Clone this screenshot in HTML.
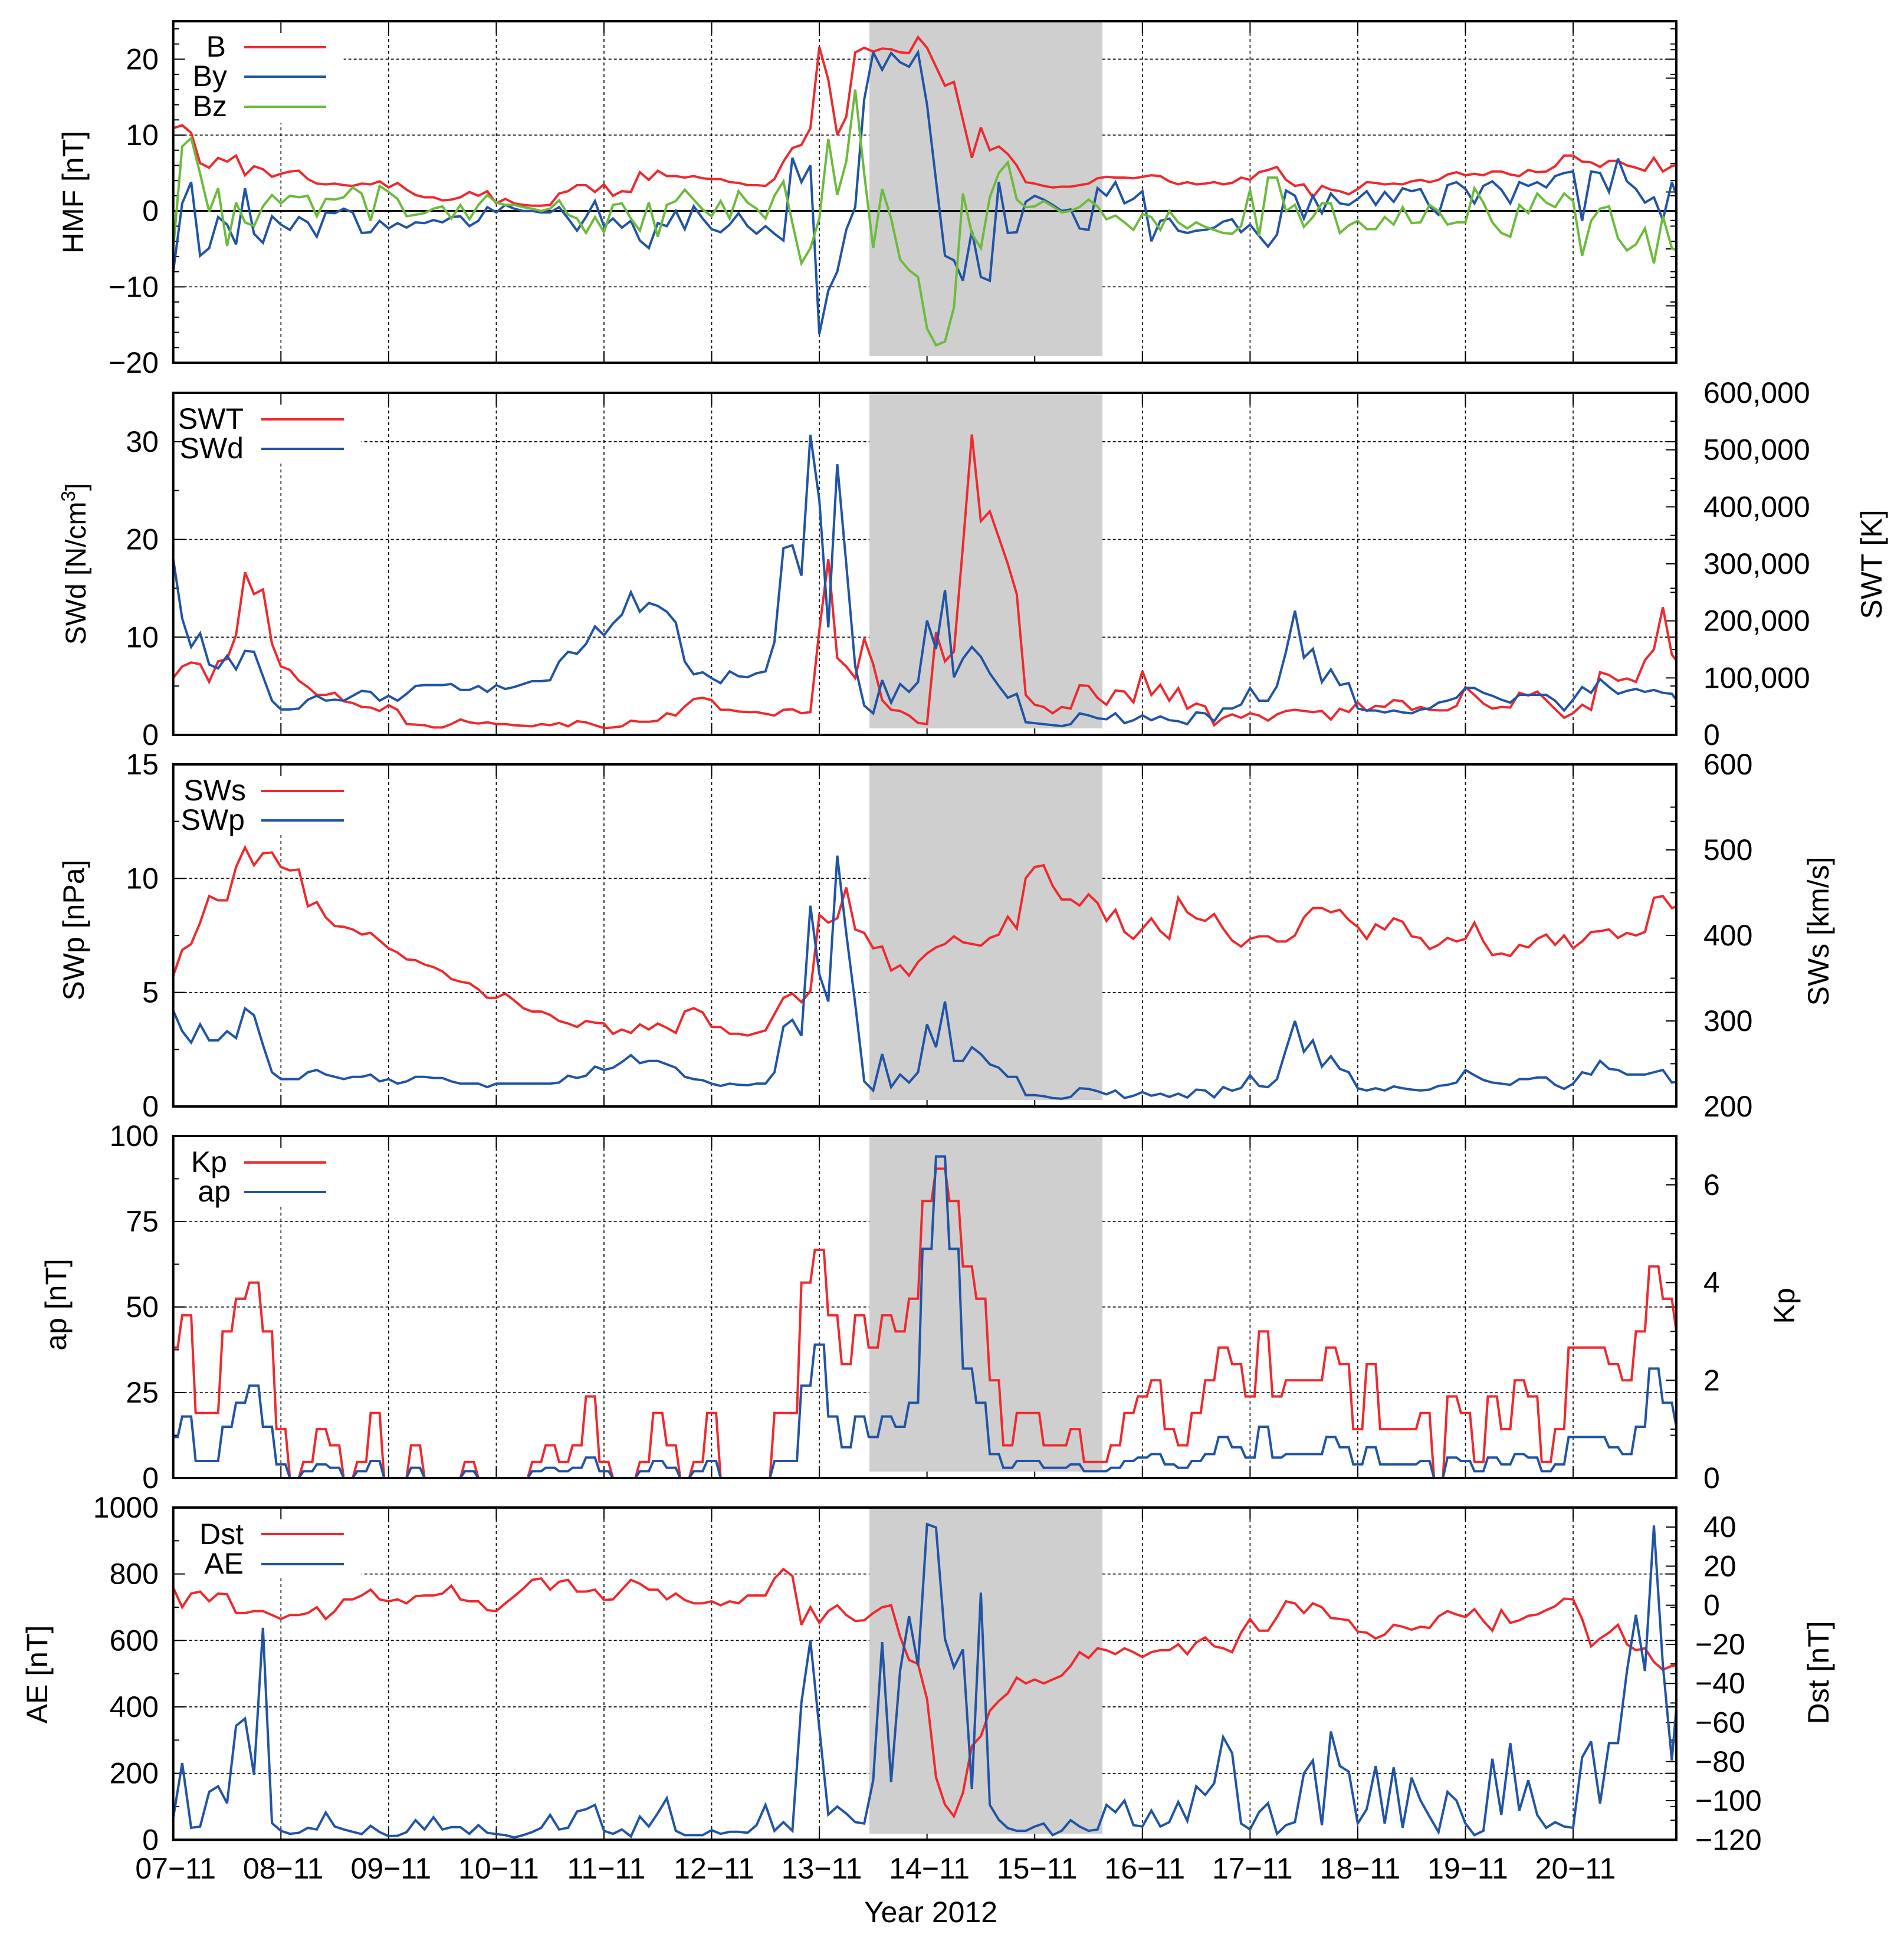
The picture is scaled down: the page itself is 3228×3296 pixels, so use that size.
<!DOCTYPE html>
<html lang="en">
<head>
<meta charset="utf-8">
<title>Solar wind and geomagnetic indices, November 2012</title>
<style>
html,body{margin:0;padding:0;background:#fff;}
svg{display:block;}
text{font-family:"Liberation Sans",Arial,sans-serif;font-size:50px;fill:#000;}
</style>
</head>
<body>
<svg id="chart" xmlns="http://www.w3.org/2000/svg" width="3228" height="3296" viewBox="0 0 3228 3296">
<rect x="0" y="0" width="3228" height="3296" fill="#ffffff"/>
<g id="layers"></g>
<g id="labels">
<text transform="translate(141 326) rotate(-90)" text-anchor="middle">HMF [nT]</text>
<text transform="translate(145 956) rotate(-90)" text-anchor="middle" font-size="48" style="font-size:48px">SWd [N/cm<tspan style="font-size:33px" dy="-18">3</tspan><tspan dy="18">]</tspan></text>
<text transform="translate(3190 957) rotate(-90)" text-anchor="middle">SWT [K]</text>
<text transform="translate(142 1577) rotate(-90)" text-anchor="middle">SWp [nPa]</text>
<text transform="translate(3100 1579) rotate(-90)" text-anchor="middle">SWs [km/s]</text>
<text transform="translate(112 2212) rotate(-90)" text-anchor="middle">ap [nT]</text>
<text transform="translate(3042 2214) rotate(-90)" text-anchor="middle">Kp</text>
<text transform="translate(80 2839) rotate(-90)" text-anchor="middle">AE [nT]</text>
<text transform="translate(3100 2836) rotate(-90)" text-anchor="middle">Dst [nT]</text>
<text x="1578" y="3259" text-anchor="middle">Year 2012</text>
<text x="383" y="96" text-anchor="end">B</text>
<text x="385" y="146" text-anchor="end">By</text>
<text x="385" y="197" text-anchor="end">Bz</text>
<text x="413" y="727" text-anchor="end">SWT</text>
<text x="413" y="777" text-anchor="end">SWd</text>
<text x="417" y="1357" text-anchor="end">SWs</text>
<text x="415" y="1407" text-anchor="end">SWp</text>
<text x="385" y="1987" text-anchor="end">Kp</text>
<text x="391" y="2037" text-anchor="end">ap</text>
<text x="413" y="2618" text-anchor="end">Dst</text>
<text x="413" y="2668" text-anchor="end">AE</text>
</g>
</svg>
<script>
// ---- Chart data: one reading every 2 hours from 07-11 00:00 unless stated ----
const dayLabels = ['07\u221211','08\u221211','09\u221211','10\u221211','11\u221211','12\u221211','13\u221211','14\u221211','15\u221211','16\u221211','17\u221211','18\u221211','19\u221211','20\u221211'];

const bValues = [
10.9,11.3,10.3,6.3,5.7,7,6.5,7.3,4.7,5.9,5.5,4.5,
4.9,5.2,5.3,4.2,3.6,3.5,3.6,3.4,3.3,3.6,3.5,3.9,
3.1,3.7,2.8,2.1,1.8,1.8,1.4,1.5,1.8,2.5,2,2.6,
1,1.6,1,.8,.7,.7,.8,2.3,2.6,3.4,3.4,2.5,
3.5,2,2.6,2.5,5.1,4.1,5.3,4.6,4.6,4.4,4.6,4.3,
4.2,4.2,3.8,3.7,3.4,3.4,3.3,4.2,6.5,8.3,8.7,10.9,
21.6,17.3,10,12.4,20.9,21.5,21,21.4,21.3,20.9,20.8,22.9,
21.5,19,16.5,17,12,7,11,8,8.5,7.5,6,3.8,
3.6,3.3,3.1,3.2,3.2,3.4,3.6,4.3,4.5,4.4,4.4,4.3,
4.5,4.7,4.6,3.9,3.5,3.8,3.5,3.6,3.8,3.5,3.7,4.4,
4.1,5.1,5.4,5.8,4.1,3.3,3.5,1.8,3.3,2.8,2.6,2.2,
2.9,3.8,3.7,3.5,3.6,3.5,3.9,4.1,3.8,4.1,4.8,5.1,
4.7,4.9,4.7,5.2,5.2,4.8,4.6,5.4,5.1,5.2,5.9,7.3,
7.3,6.5,6.4,5.8,6.6,6.6,6,5.7,5.3,7,5.2,5.9,6.2];

const byValues = [
-8,1,3.8,-5.9,-4.9,-.8,-1.8,-4.4,3,-3,-4.2,-.7,
-1.8,-2.5,-.8,-1.5,-3.4,-.2,-.3,.3,-.2,-2.9,-2.8,-1.3,
-2.3,-1.6,-2.2,-1.5,-1.6,-1.2,-1.5,-.8,-.7,-2,-1.3,.5,
-.2,.8,.3,0,0,-.2,-.2,.5,-1,-2.6,-.8,1.3,
-2,-1,-2.2,-1.3,-3.9,-4.9,-1.6,-2,0,-2.4,.6,-1,
-2.4,-2.8,-1.8,-.3,-2,-3,-2,-3,-3.9,7,3.8,6,
-16.2,-10.5,-8,-2.5,.5,14.7,20.9,18.6,20.8,19.6,19,20.9,
14,4,-5.9,-6.5,-9.2,-2.6,-8.7,-9.2,3.8,-2.9,-2.8,1.2,
2,1.5,.8,0,.2,-2.3,-2.5,3,2,3.8,1,1.6,
2.6,-4,-1.3,-1,-2.6,-2.9,-2.6,-2.5,-2.2,-1.4,-1.1,-2.8,
-1.8,-3.3,-4.7,-3.1,2.7,2,-1,2,-.3,2.3,1,.8,
1.6,2.6,.8,2.5,1.2,3,2.6,2.9,.6,-.5,3.4,3.8,
2.9,1,3.3,3.9,2.8,1,3.8,3.3,3.8,3.1,4.6,5,
5.2,-1.3,5.2,5,2.5,6.9,3.9,2.9,1.1,1.8,-1.2,3.8,.5];

const bzValues = [
-5,8.5,9.6,4.9,-.1,3,-4.6,1.1,-1.5,-2,.6,2.1,
1,2,1.8,2,-.7,1.6,1.5,1.8,3.1,2.3,-1.3,3.3,
2.5,1.6,-.7,-.5,-.3,.3,.6,-1,.8,-1.1,.8,2.1,
1.1,.8,.8,.5,.3,0,.3,1.4,-.5,-1,-2.9,-.8,
-2.8,.8,1,-1,-2.6,1.1,-3.4,.8,1.3,2.8,1.5,.2,
-.7,1.3,-1,2.6,1.1,.3,-1,2,3.9,-1.6,-6.9,-4.9,
-1,9.5,2.1,6.5,16,4.9,-4.9,2.9,-1,-6.4,-7.8,-8.7,
-15.5,-17.7,-17.2,-12.7,2.3,-3,-4.9,1.8,5,6.4,1.5,.5,
.6,1.3,.6,-.2,0,.5,1.5,.6,-1.1,-.6,-1.5,-2.5,
-.4,-.8,-2.5,0,-1.5,-2.3,-1.5,-2.1,-2.5,-2.9,-3,-2,
2.8,-3.3,4.4,4.4,0,.8,-2.1,-.8,1,1,-2.9,-1.9,
-1.3,-2.4,-2.4,-.8,-1.8,.5,-1.6,-1.5,.8,0,-1.8,-1.5,
-1.5,3,1.1,-1.5,-2.9,-3.4,.8,-.3,2.3,1.1,.5,2.3,
1.3,-5.9,-1.3,.3,.6,-3.6,-5.2,-4.4,-2.3,-6.9,-.7,-4.9,-5.5];

const swtThousandK = [
100,120,127,124,93,129,133,175,285,247,255,160,
120,114,95,84,70,70,74,59,56,49,48,42,
52,44,19,18,17,13,13,19,27,22,20,22,
19,19,17,16,15,19,17,21,15,24,22,17,
12,13,15,25,23,23,25,38,34,50,63,65,
61,44,44,41,40,40,37,34,44,45,38,40,
184,308,135,120,100,169,124,61,44,42,34,21,
19,180,129,146,331,527,375,392,346,300,247,70,
53,49,38,49,46,87,86,65,53,78,76,57,
112,70,88,60,82,46,55,50,17,30,36,30,
38,34,25,36,42,44,42,40,42,27,46,40,
57,42,51,49,61,59,44,49,44,43,43,51,
84,70,55,46,49,48,74,69,76,61,45,30,
38,53,44,110,105,95,99,93,131,150,224,141,120];

const swdValues = [
18,11.9,9,10.4,7.2,6.8,8.1,6.7,8.6,8.5,6,3.5,
2.6,2.6,2.7,3.6,4,3.5,3.6,3.5,4,4.5,4.4,3.5,
4,3.5,4.2,5,5.1,5.1,5.1,5.2,4.6,4.6,5,4.4,
5.1,4.7,4.9,5.2,5.5,5.5,5.6,7.5,8.5,8.3,9.3,11.1,
10.2,11.4,12.3,14.6,12.6,13.5,13.2,12.6,11.5,7.5,6.2,6.4,
5.8,5.3,6.5,6,5.9,6.3,6.5,9.5,19.1,19.4,16.3,30.7,
24,11,27.7,17.5,7,3,2.2,5.6,3.3,5.2,4.4,5.4,
11.7,8.8,14.8,5.9,7.8,9,8,6.3,5,3.8,4.2,1.3,
1.2,1.1,1,.9,1.1,2.2,2,1.7,1.6,2.2,1.2,1.5,
2,1.5,1.9,1.5,1.4,1.1,2.3,2.2,1.4,2.7,2.7,3.1,
4.8,3.5,3.5,5,8.5,12.7,7.9,8.8,5.4,6.7,5.1,5.3,
2.7,2.5,2.5,2.3,2.5,2.3,2.2,2.6,2.7,3.3,3.5,3.8,
4.8,4.8,4.3,4,3.6,3.3,4.1,4.1,4.1,4.1,3.5,2.5,
3.6,4.9,4.3,5.7,4.9,4.2,4.5,4.7,4.4,4.6,4.3,4.2,3];

const swsValues = [
353,383,390,415,446,441,441,480,503,482,496,497,
480,476,477,434,439,421,411,410,407,401,403,394,
385,380,372,371,366,363,358,349,346,344,337,327,
327,332,324,315,311,311,307,300,297,293,300,298,
297,285,290,286,296,290,297,292,286,311,315,310,
293,293,285,285,283,286,289,308,327,332,322,335,
424,415,420,456,407,403,385,387,359,365,353,369,
379,386,390,399,392,390,388,397,401,422,408,467,
480,482,458,442,442,435,448,438,417,430,404,396,
408,420,405,396,444,427,420,417,425,408,394,387,
396,399,399,393,393,400,421,432,432,427,430,418,
410,396,413,407,420,416,399,397,384,389,397,393,
396,415,393,377,379,376,389,386,396,401,389,400,
385,393,404,405,407,397,403,400,404,444,446,432,436];

const swpValues = [
4.2,3.3,2.8,3.6,2.9,2.9,3.3,3,4.3,4,2.7,1.5,
1.2,1.2,1.2,1.5,1.6,1.4,1.3,1.2,1.3,1.3,1.4,1.1,
1.2,1,1.1,1.3,1.3,1.25,1.25,1.1,1,1,1,.85,
1,1,1,1,1,1,1,1.05,1.35,1.25,1.35,1.75,
1.6,1.7,1.95,2.25,1.9,2,2,1.85,1.7,1.3,1.2,1.15,
1,.9,1,.95,.93,1,1,1.5,3.5,3.8,3.1,8.8,
5.8,4.6,11,7.6,4.5,1.1,.7,2.3,.85,1.4,1.05,1.5,
3.6,2.6,4.6,2,2,2.6,2.3,1.85,1.7,1.3,1.3,.5,
.5,.45,.37,.34,.42,.8,.77,.67,.53,.7,.37,.47,
.63,.47,.56,.42,.56,.39,.74,.7,.4,.85,.69,.81,
1.37,.9,.85,1.2,2.5,3.75,2.4,2.9,1.75,2.2,1.65,1.5,
.8,.7,.8,.7,.88,.8,.74,.7,.74,.9,.95,1.05,
1.6,1.37,1.16,1.05,1,.95,1.2,1.2,1.27,1.27,.95,.77,
1,1.5,1.4,2,1.65,1.6,1.4,1.4,1.4,1.5,1.6,1.05,1.1];

// Kp and ap: 3-hourly index values
const kpValues = [
2.67,3.33,1.33,1.33,3,3.67,4,3,1,0,
.33,1,.67,0,.33,1.33,0,0,.67,0,
0,0,.33,0,0,0,0,.33,.67,.33,
.67,1.67,.33,0,0,.33,1.33,.67,0,.33,
1.33,0,0,0,0,1.33,1.33,4,4.67,3.33,
2.33,3.33,2.67,3.33,3,3.67,5.67,6.33,5.67,4.33,
3.67,2,.67,1.33,1.33,.67,.67,1,.33,.33,
.67,1.33,1.67,2,1,.67,1.33,2,2.67,2.33,
1.67,3,1.67,2,2,2,2.67,2.33,1,2.33,
1,1,1,1.33,0,1.67,1.33,.33,1.67,1,
2,1.67,.33,1,2.67,2.67,2.67,2.33,2,3,
4.33,3.67,3];

const apValues = [
12,18,5,5,15,22,27,15,4,0,
2,4,3,0,2,5,0,0,3,0,
0,0,2,0,0,0,0,2,3,2,
3,6,2,0,0,2,5,3,0,2,
5,0,0,0,0,5,5,27,39,18,
9,18,12,18,15,22,67,94,67,32,
22,7,3,5,5,3,3,4,2,2,
3,5,6,7,4,3,5,7,12,9,
6,15,6,7,7,7,12,9,4,9,
4,4,4,5,0,6,5,2,6,4,
7,6,2,4,12,12,12,9,7,15,
32,22,15];

const dstValues = [
9,-1,6,7,2,6,5.6,-4,-4,-3,-3,-5,
-7,-5,-5,-4,-1,-7,-3,3,3,5,8,3,
2,3,1,4.6,5,5,6,10,3,2,2,-2.5,
-3,1,4.6,8.5,13,13.7,8,12,13,7,7,8,
2.7,3,8,13,11,8,8,3,6,2.7,1,1,
2,0,2,1,5,5,5,13.7,18.5,15,-10,-1,
-9,-3,0,-5,-8,-7.7,-4,-1,0,-16,-28,-30,
-48,-88,-102,-108,-96,-72,-67,-54,-49,-45,-37,-40,
-38,-40,-38,-36,-31,-24,-27,-22,-23,-25,-22,-24,
-26.5,-24,-23,-23,-20,-25,-19,-16.5,-21,-22,-24,-14,
-7,-13,-13,-6,2,1,-4,1,-1,-6.5,-7,-7.7,
-13.5,-14,-17,-15,-10,-11,-12.5,-11,-11.6,-5.7,-3,-4.7,
-6,-2,-8,-13,-2.5,-9,-7.7,-5.4,-4.7,-2.5,-.5,3.4,
3,-7,-21,-17,-14,-10,-20,-23,-22,-29,-33,-31,-31];

const aeValues = [
66,231,36,40,144,161,110,343,365,196,638,50,
27,18,21,36,31,82,40,31,24,17,42,23,
11,12,23,59,31,68,31,38,38,18,44,21,
17,14,7,14,23,36,75,31,36,85,92,105,
27,18,31,10,70,40,80,125,27,14,14,14,
29,18,24,24,21,44,105,27,53,27,413,600,
335,76,100,79,53,49,179,595,174,508,673,525,
950,940,604,519,573,153,744,105,60,35,27,27,
40,49,14,27,59,40,27,31,105,83,118,44,
40,88,40,53,114,57,161,135,170,309,261,49,
31,83,110,18,44,53,200,239,44,326,222,205,
49,92,222,49,218,36,187,118,70,23,144,118,
49,14,27,244,75,291,88,179,75,36,53,40,
36,248,296,109,291,291,508,677,508,946,526,239,552];

// Axis tick values
const hmfTicks = [-20,-10,0,10,20];
const swdTicks = [0,10,20,30];
const swtTicks = [0,100000,200000,300000,400000,500000,600000];
const swpTicks = [0,5,10,15];
const swsTicks = [200,300,400,500,600];
const apTicks = [0,25,50,75,100];
const kpTicks = [0,2,4,6];
const aeTicks = [0,200,400,600,800,1000];
const dstTicks = [-120,-100,-80,-60,-40,-20,0,20,40];

// ---- Drawing ----
const SVGNS = 'http://www.w3.org/2000/svg';
const layers = document.getElementById('layers');
const plotLeft = 293.7, plotRight = 2842, lastHour = 335;
const grayStartHour = 155.16, grayEndHour = 207.1;
const RED = '#ee2a2e', BLUE = '#2154a5', GREEN = '#6cbb3c';

function xScale(h){ return plotLeft + h * (plotRight - plotLeft) / lastHour; }
function linScale(dom, top, bottom){
  return function(v){ return bottom - (v - dom[0]) * (bottom - top) / (dom[1] - dom[0]); };
}
function mk(tag, attrs, parent){
  const e = document.createElementNS(SVGNS, tag);
  for (const k in attrs) e.setAttribute(k, attrs[k]);
  (parent || layers).appendChild(e);
  return e;
}
function fmt(v, comma){
  const a = Math.abs(v);
  const s = comma ? a.toLocaleString('en-US') : String(a);
  return v < 0 ? '\u2212' + s : s;
}
function seriesPath(pts){
  return pts.map(function(p, i){ return (i ? 'L' : 'M') + p[0].toFixed(1) + ' ' + p[1].toFixed(1); }).join('');
}
function twoHourly(vals, y){
  return vals.map(function(v, i){ return [xScale(i * 2), y(v)]; });
}
function threeHourly(vals, y){
  const pts = [];
  vals.forEach(function(v, k){
    [3 * k - 1, 3 * k, 3 * k + 1].forEach(function(h){
      if (h >= 0) pts.push([xScale(h), y(v)]);
    });
  });
  return pts;
}

function drawPanel(p){
  const g = mk('g', {});
  
  
  const yL = linScale(p.leftDomain, p.top, p.bottom);
  const yR = linScale(p.rightDomain, p.top, p.bottom);

  const clip = mk('clipPath', {id: 'clip-' + p.id}, g);
  mk('rect', {x: plotLeft, y: p.top, width: plotRight - plotLeft, height: p.bottom - p.top}, clip);

  // horizontal grid
  p.leftTicks.forEach(function(t){
    if (t === p.leftDomain[0] || t === p.leftDomain[1] || t === 0) return;
    const gl = mk('line', {x1: plotLeft, x2: plotRight, y1: yL(t), y2: yL(t), stroke: '#000', 'stroke-width': 1.6, 'stroke-dasharray': '5 4'}, g);
    
    
  });
  // vertical grid
  dayLabels.forEach(function(d, i){
    if (i === 0) return;
    const x = xScale(i * 24);
    const gl = mk('line', {x1: x, x2: x, y1: p.top, y2: p.bottom, stroke: '#000', 'stroke-width': 1.6, 'stroke-dasharray': '5 5'}, g);
    
    
  });
  // legend backing
  const box = mk('rect', {x: plotLeft + 2, y: p.top, width: p.legendBoxW, height: p.legendBoxH, fill: '#fff'}, g);
  
  

  // x ticks, top and bottom
  dayLabels.forEach(function(d, i){
    if (i === 0) return;
    const x = xScale(i * 24);
    const t1 = mk('line', {x1: x, x2: x, y1: p.top, y2: p.top + 20, stroke: '#000', 'stroke-width': 2}, g);
    
    
    const t2 = mk('line', {x1: x, x2: x, y1: p.bottom - 20, y2: p.bottom, stroke: '#000', 'stroke-width': 2}, g);
    
    
  });
  // y ticks
  function ticks(domain, step, minorStep, yf, side, lenMajor, lenMinor){
    const n = Math.round((domain[1] - domain[0]) / minorStep);
    const first = Math.ceil(domain[0] / minorStep) * minorStep;
    for (let i = 0; i <= n; i++){
      const v = first + i * minorStep;
      if (v > domain[1] + 1e-6) break;
      const r = v / step;
      const major = Math.abs(r - Math.round(r)) < 1e-6;
      const len = major ? lenMajor : lenMinor;
      const x0 = side < 0 ? plotLeft : plotRight;
      const tk = mk('line', {x1: x0, x2: x0 - side * len, y1: yf(v), y2: yf(v), stroke: '#000', 'stroke-width': 2}, g);
      
      
    }
  }
  ticks(p.leftDomain, p.leftStep, p.leftMinor, yL, -1, 20, 10);
  ticks(p.leftDomain, p.leftStep, p.leftMinor, yL, 1, 18, 10);
  ticks(p.rightDomain, p.rightStep, p.rightMinor, yR, 1, 18, 10);

  // shaded storm interval
  const shade = mk('rect', {x: xScale(grayStartHour), y: p.top, width: xScale(grayEndHour) - xScale(grayStartHour), height: p.shadeBottom - p.top, fill: '#cfcfcf'}, g);
  
  

  if (p.zeroLine){
    const z = mk('line', {x1: plotLeft, x2: plotRight, y1: yL(0), y2: yL(0), stroke: '#000', 'stroke-width': 3}, g);
    
    
  }

  // series
  p.series.forEach(function(s){
    const yf = s.axis === 'left' ? yL : yR;
    const pts = s.hourStep === 3 ? threeHourly(s.values.map(s.scale || Number), yf) : twoHourly(s.values.map(s.scale || Number), yf);
    const path = mk('path', {d: seriesPath(pts), fill: 'none', stroke: s.color, 'stroke-width': 4, 'stroke-linejoin': 'miter', 'stroke-miterlimit': 3, 'clip-path': 'url(#clip-' + p.id + ')'}, g);
    
    
    const key = mk('line', {x1: p.legendX1, x2: p.legendX2, y1: s.legendY, y2: s.legendY, stroke: s.color, 'stroke-width': 4}, g);
    
    
  });

  // frame
  const frame = mk('rect', {x: plotLeft, y: p.top, width: plotRight - plotLeft, height: p.bottom - p.top, fill: 'none', stroke: '#000', 'stroke-width': 4}, g);
  
  

  // tick labels
  p.leftTicks.forEach(function(t){
    const tx = mk('text', {x: 269, y: yL(t) + 17, 'text-anchor': 'end'}, g);
    tx.textContent = fmt(t, false);
    
    
  });
  (p.rightTicks || []).forEach(function(t){
    const tx = mk('text', {x: t < 0 ? 2874 : 2888, y: yR(t) + 17, 'text-anchor': 'start'}, g);
    tx.textContent = fmt(t, true);
    
    
  });
}

const panels = [
 {id:'hmf', top:36, bottom:615, shadeBottom:604, leftDomain:[-20,25], leftStep:10, leftMinor:2, leftTicks:hmfTicks,
  rightDomain:[0,600000], rightStep:100000, rightMinor:50000, rightTicks:null, zeroLine:true,
  legendBoxW:287, legendBoxH:172, legendX1:414, legendX2:553,
  series:[
   {name:'b', values:bValues, axis:'left', color:RED, legendY:80},
   {name:'by', values:byValues, axis:'left', color:BLUE, legendY:130},
   {name:'bz', values:bzValues, axis:'left', color:GREEN, legendY:181}]},
 {id:'swd-swt', top:666, bottom:1246, shadeBottom:1235, leftDomain:[0,35], leftStep:10, leftMinor:5, leftTicks:swdTicks,
  rightDomain:[0,600000], rightStep:100000, rightMinor:50000, rightTicks:swtTicks,
  legendBoxW:317, legendBoxH:119, legendX1:443, legendX2:583,
  series:[
   {name:'swt', values:swtThousandK, scale:function(v){return v*1000;}, axis:'right', color:RED, legendY:711},
   {name:'swd', values:swdValues, axis:'left', color:BLUE, legendY:761}]},
 {id:'swp-sws', top:1296, bottom:1876, shadeBottom:1865, leftDomain:[0,15], leftStep:5, leftMinor:2.5, leftTicks:swpTicks,
  rightDomain:[200,600], rightStep:100, rightMinor:50, rightTicks:swsTicks,
  legendBoxW:317, legendBoxH:119, legendX1:443, legendX2:583,
  series:[
   {name:'sws', values:swsValues, axis:'right', color:RED, legendY:1341},
   {name:'swp', values:swpValues, axis:'left', color:BLUE, legendY:1391}]},
 {id:'ap-kp', top:1926, bottom:2506, shadeBottom:2495, leftDomain:[0,100], leftStep:25, leftMinor:12.5, leftTicks:apTicks,
  rightDomain:[0,7], rightStep:2, rightMinor:1, rightTicks:kpTicks,
  legendBoxW:287, legendBoxH:119, legendX1:414, legendX2:553,
  series:[
   {name:'kp', values:kpValues, hourStep:3, axis:'right', color:RED, legendY:1971},
   {name:'ap', values:apValues, hourStep:3, axis:'left', color:BLUE, legendY:2021}]},
 {id:'ae-dst', top:2556, bottom:3119.3, shadeBottom:3109, leftDomain:[0,1000], leftStep:200, leftMinor:100, leftTicks:aeTicks,
  rightDomain:[-120,50], rightStep:20, rightMinor:10, rightTicks:dstTicks,
  legendBoxW:317, legendBoxH:120, legendX1:443, legendX2:583,
  series:[
   {name:'dst', values:dstValues, axis:'right', color:RED, legendY:2601},
   {name:'ae', values:aeValues, axis:'left', color:BLUE, legendY:2652}]}
];

panels.forEach(drawPanel);

// x tick labels under the last panel
dayLabels.forEach(function(d, i){
  const tx = mk('text', {x: xScale(i * 24) + 4, y: 3185, 'text-anchor': 'middle'});
  tx.textContent = d;
  
  
});
</script>
</body>
</html>
